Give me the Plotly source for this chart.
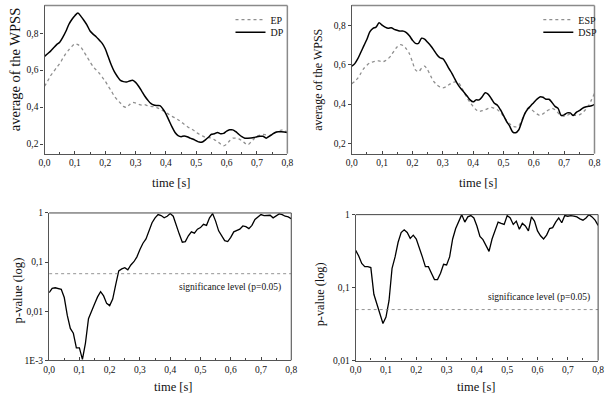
import plotly.graph_objects as go

# ---------------- data ----------------
time = [round(i * 0.01, 2) for i in range(81)]

ep = [0.513, 0.540, 0.570, 0.592, 0.615, 0.636, 0.663, 0.689, 0.710, 0.728,
      0.742, 0.738, 0.724, 0.698, 0.672, 0.645, 0.619, 0.601, 0.584, 0.562,
      0.540, 0.513, 0.487, 0.460, 0.439, 0.422, 0.404, 0.399, 0.413, 0.425,
      0.422, 0.415, 0.411, 0.413, 0.408, 0.404, 0.402, 0.397, 0.390, 0.381,
      0.372, 0.360, 0.350, 0.341, 0.332, 0.320, 0.307, 0.295, 0.284, 0.276,
      0.263, 0.253, 0.244, 0.237, 0.235, 0.232, 0.223, 0.214, 0.200, 0.191,
      0.200, 0.218, 0.232, 0.232, 0.228, 0.218, 0.205, 0.196, 0.211, 0.228,
      0.242, 0.249, 0.253, 0.249, 0.246, 0.253, 0.262, 0.270, 0.276, 0.272,
      0.267]

dp = [0.675, 0.689, 0.703, 0.721, 0.738, 0.751, 0.777, 0.809, 0.847, 0.874,
      0.895, 0.909, 0.891, 0.869, 0.844, 0.812, 0.795, 0.781, 0.763, 0.745,
      0.716, 0.672, 0.628, 0.592, 0.566, 0.545, 0.538, 0.536, 0.541, 0.545,
      0.534, 0.513, 0.487, 0.460, 0.438, 0.420, 0.411, 0.409, 0.408, 0.390,
      0.364, 0.328, 0.293, 0.263, 0.246, 0.240, 0.244, 0.240, 0.232, 0.226,
      0.218, 0.211, 0.211, 0.223, 0.237, 0.253, 0.256, 0.263, 0.256, 0.258,
      0.270, 0.277, 0.277, 0.267, 0.253, 0.240, 0.232, 0.232, 0.233, 0.235,
      0.240, 0.242, 0.242, 0.232, 0.242, 0.253, 0.263, 0.267, 0.267, 0.265,
      0.262]

esp = [0.503, 0.515, 0.531, 0.556, 0.581, 0.597, 0.609, 0.614, 0.617, 0.619,
       0.614, 0.619, 0.630, 0.647, 0.671, 0.691, 0.701, 0.696, 0.680, 0.655,
       0.614, 0.573, 0.564, 0.581, 0.592, 0.573, 0.543, 0.515, 0.498, 0.487,
       0.482, 0.487, 0.498, 0.507, 0.512, 0.510, 0.490, 0.460, 0.432, 0.408,
       0.388, 0.371, 0.362, 0.366, 0.371, 0.378, 0.383, 0.378, 0.371, 0.358,
       0.338, 0.317, 0.300, 0.289, 0.284, 0.289, 0.317, 0.350, 0.378, 0.375,
       0.362, 0.350, 0.342, 0.350, 0.362, 0.371, 0.378, 0.371, 0.355, 0.342,
       0.338, 0.342, 0.350, 0.345, 0.342, 0.345, 0.355, 0.371, 0.391, 0.421,
       0.454]

dsp = [0.592, 0.605, 0.630, 0.663, 0.696, 0.729, 0.767, 0.784, 0.790, 0.812,
       0.800, 0.790, 0.784, 0.787, 0.779, 0.774, 0.770, 0.770, 0.762, 0.746,
       0.724, 0.708, 0.708, 0.734, 0.729, 0.713, 0.696, 0.675, 0.652, 0.635,
       0.630, 0.609, 0.581, 0.556, 0.526, 0.498, 0.477, 0.460, 0.441, 0.421,
       0.411, 0.421, 0.421, 0.437, 0.457, 0.449, 0.427, 0.404, 0.394, 0.371,
       0.342, 0.312, 0.289, 0.259, 0.254, 0.268, 0.309, 0.350, 0.375, 0.391,
       0.408, 0.424, 0.436, 0.434, 0.424, 0.424, 0.408, 0.388, 0.378, 0.342,
       0.345, 0.355, 0.355, 0.342, 0.358, 0.366, 0.378, 0.385, 0.388, 0.391,
       0.398]

# p-values read on the log axis (log10 p)
p_left_log10 = [-1.623, -1.536, -1.523, -1.536, -1.556, -1.722, -2.086, -2.351, -2.450, -2.748,
                -2.748, -2.980, -2.649, -2.152, -2.020, -1.854, -1.709, -1.603, -1.689, -1.841,
                -1.887, -1.755, -1.457, -1.179, -1.139, -1.113, -1.159, -1.060, -0.993, -0.894,
                -0.742, -0.616, -0.530, -0.364, -0.199, -0.099, -0.033, -0.053, -0.099, -0.066,
                -0.013, -0.066, -0.265, -0.430, -0.596, -0.583, -0.464, -0.384, -0.411, -0.331,
                -0.298, -0.232, -0.252, -0.099, -0.013, -0.166, -0.364, -0.477, -0.563, -0.583,
                -0.497, -0.384, -0.364, -0.331, -0.265, -0.278, -0.318, -0.252, -0.132, -0.079,
                -0.033, -0.053, -0.053, -0.046, -0.099, -0.053, -0.020, -0.033, -0.066, -0.079,
                -0.119]

p_right_log10 = [-0.490, -0.566, -0.668, -0.713, -0.713, -0.726, -1.091, -1.216, -1.367, -1.492,
                 -1.403, -1.180, -0.735, -0.579, -0.379, -0.245, -0.209, -0.245, -0.325, -0.281,
                 -0.334, -0.445, -0.579, -0.713, -0.713, -0.802, -0.891, -0.891, -0.802, -0.681,
                 -0.690, -0.579, -0.334, -0.191, -0.089, 0.000, -0.102, -0.031, -0.013, -0.045,
                 -0.156, -0.298, -0.343, -0.423, -0.503, -0.334, -0.209, -0.102, -0.120, -0.134,
                 -0.013, -0.045, -0.134, -0.089, -0.200, -0.120, -0.156, -0.223, -0.031, -0.089,
                 -0.223, -0.290, -0.334, -0.281, -0.191, -0.178, -0.102, -0.045, -0.111, -0.013,
                 -0.022, -0.013, -0.022, -0.031, -0.058, -0.076, -0.045, 0.000, -0.031, -0.076,
                 -0.147]

sig_left = 0.058
sig_right = 0.05
sig_label = "significance level (p=0.05)"

x_ticks = [0, 0.1, 0.2, 0.3, 0.4, 0.5, 0.6, 0.7, 0.8]
x_ticktext = ["0,0", "0,1", "0,2", "0,3", "0,4", "0,5", "0,6", "0,7", "0,8"]
wpss_ticks = [0.2, 0.4, 0.6, 0.8]
wpss_ticktext = ["0,2", "0,4", "0,6", "0,8"]
pl_ticks = [0.001, 0.01, 0.1, 1]
pl_ticktext = ["1E-3", "0,01", "0,1", "1"]
pr_ticks = [0.01, 0.1, 1]
pr_ticktext = ["0,01", "0,1", "1"]

# ---------------- figure ----------------
W, H = 610, 400
FONT = "Liberation Serif, Times New Roman, serif"
DOT_COLOR = "#8f8f8f"
TXT = "#111"


def px_x(p):
    return p / W


def px_y(p):
    return 1 - p / H


fig = go.Figure()

p_left = [10 ** v for v in p_left_log10]
p_right = [10 ** v for v in p_right_log10]

fig.add_trace(go.Scatter(x=time, y=ep, name="EP", mode="lines", xaxis="x", yaxis="y",
                         line=dict(color=DOT_COLOR, width=1.3, dash="dot", shape="spline", smoothing=0.8),
                         legend="legend"))
fig.add_trace(go.Scatter(x=time, y=dp, name="DP", mode="lines", xaxis="x", yaxis="y",
                         line=dict(color="black", width=1.5, shape="spline", smoothing=0.8),
                         legend="legend2"))
fig.add_trace(go.Scatter(x=time, y=esp, name="ESP", mode="lines", xaxis="x2", yaxis="y2",
                         line=dict(color=DOT_COLOR, width=1.3, dash="dot", shape="spline", smoothing=0.8),
                         legend="legend3"))
fig.add_trace(go.Scatter(x=time, y=dsp, name="DSP", mode="lines", xaxis="x2", yaxis="y2",
                         line=dict(color="black", width=1.5, shape="spline", smoothing=0.8),
                         legend="legend4"))
fig.add_trace(go.Scatter(x=time, y=p_left, mode="lines", xaxis="x3", yaxis="y3", showlegend=False,
                         line=dict(color="black", width=1.3)))
fig.add_trace(go.Scatter(x=time, y=p_right, mode="lines", xaxis="x4", yaxis="y4", showlegend=False,
                         line=dict(color="black", width=1.3)))
fig.add_trace(go.Scatter(x=[0, 0.8], y=[sig_left, sig_left], mode="lines", xaxis="x3", yaxis="y3",
                         showlegend=False, line=dict(color="#777", width=0.8, dash="dot")))
fig.add_trace(go.Scatter(x=[0, 0.8], y=[sig_right, sig_right], mode="lines", xaxis="x4", yaxis="y4",
                         showlegend=False, line=dict(color="#777", width=0.8, dash="dot")))

tickfont = dict(family=FONT, size=9.5, color=TXT)


def xaxis(domain, anchor):
    return dict(domain=domain, anchor=anchor, range=[0, 0.8], tickvals=x_ticks, ticktext=x_ticktext,
                ticks="inside", ticklen=3, tickcolor="#444", showline=True, linecolor="#555",
                linewidth=1.3, showgrid=False, zeroline=False, tickfont=tickfont,
                minor=dict(tickvals=[0.05, 0.15, 0.25, 0.35, 0.45, 0.55, 0.65, 0.75],
                           ticks="inside", ticklen=2, tickcolor="#444"))


def yaxis(domain, anchor, **kw):
    d = dict(domain=domain, anchor=anchor, ticks="outside", ticklen=3, tickcolor="#444",
             showline=True, linecolor="#555", linewidth=1.3, showgrid=False, zeroline=False,
             tickfont=tickfont)
    d.update(kw)
    return d


dom_x1 = [px_x(39.3), px_x(287)]
dom_x2 = [px_x(352.7), px_x(600.3)]
dom_x3 = [px_x(44), px_x(291)]
dom_x4 = [px_x(356.7), px_x(604)]
dom_ytop = [px_y(152.5), px_y(0.5)]
dom_y3 = [px_y(364.4), px_y(213.3)]
dom_y4 = [px_y(364.7), px_y(215)]


def legend_at(left_px, center_y_px):
    return dict(x=px_x(left_px), y=px_y(center_y_px), xanchor="left", yanchor="middle",
                bgcolor="rgba(0,0,0,0)", borderwidth=0,
                font=dict(family=FONT, size=10, color=TXT), itemwidth=30)


fig.update_layout(
    width=W, height=H,
    margin=dict(l=0, r=0, t=0, b=0),
    paper_bgcolor="white", plot_bgcolor="white",
    font=dict(family=FONT, color=TXT),
    xaxis=xaxis(dom_x1, "y"),
    yaxis=yaxis(dom_ytop, "x", range=[0.148, 0.95], tickvals=wpss_ticks, ticktext=wpss_ticktext),
    xaxis2=xaxis(dom_x2, "y2"),
    yaxis2=yaxis(dom_ytop, "x2", range=[0.148, 0.90], tickvals=wpss_ticks, ticktext=wpss_ticktext),
    xaxis3=xaxis(dom_x3, "y3"),
    yaxis3=yaxis(dom_y3, "x3", type="log", range=[-3, 0], tickvals=pl_ticks, ticktext=pl_ticktext),
    xaxis4=xaxis(dom_x4, "y4"),
    yaxis4=yaxis(dom_y4, "x4", type="log", range=[-2, 0], tickvals=pr_ticks, ticktext=pr_ticktext),
    legend=legend_at(229, 15),
    legend2=legend_at(229, 28),
    legend3=legend_at(543, 15),
    legend4=legend_at(543, 28),
)

# frame: top and right borders
for xa, ya, col, w in [("x", "y", "#8a8a8a", 1.5), ("x2", "y2", "#8a8a8a", 1.5),
                       ("x3", "y3", "#444", 1.0), ("x4", "y4", "#444", 1.0)]:
    fig.add_shape(type="line", xref=xa + " domain", yref=ya + " domain", x0=0, x1=1, y0=1, y1=1,
                  line=dict(color=col, width=w))
    fig.add_shape(type="line", xref=xa + " domain", yref=ya + " domain", x0=1, x1=1, y0=0, y1=1,
                  line=dict(color=col, width=w))

# axis titles as annotations
ann = []
for cx, cy in [(168.8, 183), (481.7, 183), (170.8, 392), (479.7, 392)]:
    ann.append(dict(text="time [s]", x=px_x(cx), y=px_y(cy), xref="paper", yref="paper",
                    showarrow=False, xanchor="center", yanchor="middle",
                    font=dict(family=FONT, size=12.5, color=TXT)))
ann.append(dict(text="average of the WPSS", x=px_x(10), y=px_y(66), xref="paper", yref="paper",
                showarrow=False, textangle=-90, xanchor="center", yanchor="middle",
                font=dict(family=FONT, size=14.5, color=TXT)))
ann.append(dict(text="average of the WPSS", x=px_x(318), y=px_y(77), xref="paper", yref="paper",
                showarrow=False, textangle=-90, xanchor="center", yanchor="middle",
                font=dict(family=FONT, size=12, color=TXT)))
ann.append(dict(text="p-value (log)", x=px_x(12), y=px_y(293), xref="paper", yref="paper",
                showarrow=False, textangle=-90, xanchor="center", yanchor="middle",
                font=dict(family=FONT, size=12.7, color=TXT)))
ann.append(dict(text="p-value (log)", x=px_x(320), y=px_y(297), xref="paper", yref="paper",
                showarrow=False, textangle=-90, xanchor="center", yanchor="middle",
                font=dict(family=FONT, size=12.3, color=TXT)))
ann.append(dict(text=sig_label, x=0.596, y=-1.51, xref="x3", yref="y3", showarrow=False,
                xanchor="center", yanchor="middle", font=dict(family=FONT, size=9.5, color=TXT)))
ann.append(dict(text=sig_label, x=0.604, y=-1.136, xref="x4", yref="y4", showarrow=False,
                xanchor="center", yanchor="middle", font=dict(family=FONT, size=9.5, color=TXT)))
fig.update_layout(annotations=ann)

fig.write_html("out.html", config={"displayModeBar": False},
               post_script="document.body.style.margin='0px';")
